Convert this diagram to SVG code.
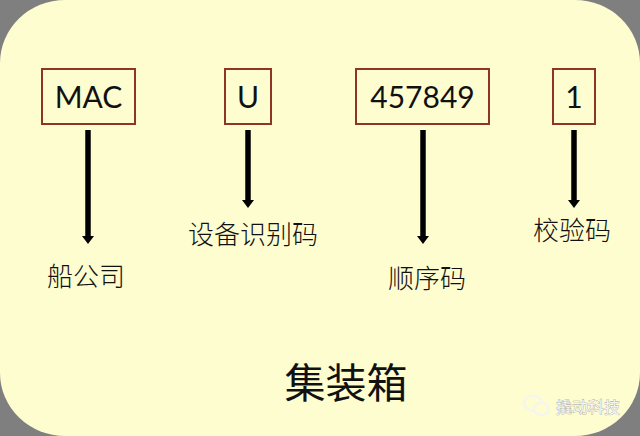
<svg xmlns="http://www.w3.org/2000/svg" width="640" height="436" viewBox="0 0 640 436">
<style>
.box{fill:none;stroke:#8E3524;stroke-width:2}
.code{font-family:Lato,"Open Sans","Liberation Sans",sans-serif;font-size:30px;fill:#111;text-anchor:middle}
.lbl{font-family:"Noto Sans CJK SC","Noto Sans",sans-serif;font-size:26px;font-weight:300;fill:#111;text-anchor:middle}
.title{font-family:"Noto Sans CJK SC","Noto Sans",sans-serif;font-size:41px;font-weight:400;fill:#111;text-anchor:middle}
.arr{stroke:#000;stroke-width:5.5;fill:none;marker-end:url(#ah)}
.wm{font-family:"Noto Sans CJK SC",sans-serif;font-size:16px;fill:#f4f4f4;stroke:#9a9a9a;stroke-width:0.6;paint-order:stroke}
</style>
<defs>
<marker id="ah" markerUnits="userSpaceOnUse" markerWidth="14" markerHeight="14" viewBox="0 -7 9 14" refX="0" refY="0" orient="auto">
<path d="M0,-6 L8,0 L0,6 Z" fill="#000"/>
</marker>
</defs>
<rect width="640" height="436" fill="#7F7F7F"/>
<rect x="0" y="0" width="640" height="436" rx="65" ry="63" fill="#FEFDD0"/>

<g id="connectors">
<path class="arr" d="M88,130 V236"/>
<path class="arr" d="M248,130 V200"/>
<path class="arr" d="M423,130 V236"/>
<path class="arr" d="M574,130 V200"/>
</g>

<g id="node-mac">
<rect class="box" x="42" y="69" width="93" height="55"/>
<text class="code" x="88.5" y="108">MAC</text>
</g>
<g id="node-u">
<rect class="box" x="225" y="69" width="46" height="55"/>
<text class="code" x="248" y="108">U</text>
</g>
<g id="node-serial">
<rect class="box" x="356" y="69" width="133" height="55"/>
<text class="code" x="422.5" y="108">457849</text>
</g>
<g id="node-check">
<rect class="box" x="553" y="69" width="42" height="55"/>
<text class="code" x="574" y="108">1</text>
</g>

<g id="label-owner"><text class="lbl" x="86" y="286">船公司</text></g>
<g id="label-equip"><text class="lbl" x="253" y="244">设备识别码</text></g>
<g id="label-serial"><text class="lbl" x="427" y="288">顺序码</text></g>
<g id="label-check"><text class="lbl" x="572" y="240">校验码</text></g>
<g id="title"><text class="title" x="346" y="398">集装箱</text></g>

<g id="watermark">
<ellipse cx="533" cy="403" rx="9" ry="7.5" fill="none" stroke="#f4f4f4" stroke-width="2"/>
<ellipse cx="541" cy="409" rx="7.5" ry="6" fill="#FEFDD0" stroke="#f4f4f4" stroke-width="2"/>
<text class="wm" x="556" y="413">撬动科技</text>
</g>
</svg>
